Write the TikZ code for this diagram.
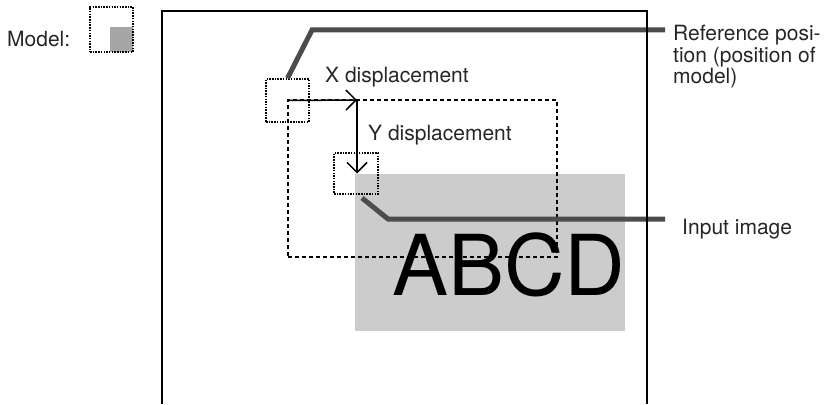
\documentclass[tikz,border=0pt]{standalone}
\usepackage{fontspec}
\setmainfont{TeX Gyre Heros}
\usepackage{xcolor}
\usepackage{tikz}
\usetikzlibrary{arrows.meta, positioning, calc}
\tikzset{
  label/.style={
    inner sep=0pt, text=black!85, font=\fontsize{21}{21.5}\selectfont
  },
  dotsquare/.style={
    rectangle, draw=black, line width=1.5pt, dash pattern=on 1.5pt off 1.2pt,
    inner sep=0pt
  },
  searchbox/.style={
    rectangle, draw=black, line width=1.2pt, dash pattern=on 4pt off 3pt,
    inner sep=0pt
  },
  imagearea/.style={
    rectangle, fill=black!20, inner sep=0pt
  },
  leader/.style={line width=5pt, draw=black!70},
  disparrow/.style={-{Straight Barb[length=10pt,width=20pt,line width=1.5pt]},
    line width=1.5pt, draw=black}
}

\begin{document}
\begin{tikzpicture}[x=1pt, y=-1pt]
\useasboundingbox (0,0) rectangle (832,404);

% model
\node[label, anchor=base west] (modeltxt) at (7,47) {Model:};
\node[imagearea, fill=black!35, minimum width=23pt, minimum height=25pt,
  anchor=south east] (modelgrey) at (133,52) {};
\node[dotsquare, minimum width=43pt, minimum height=45pt] (modelsq) at (111.5,29.5) {};

% input image
\node[imagearea, minimum width=270pt, minimum height=157pt] (inputimg) at (490,252.5) {};
\node[label, anchor=base west, text=black, font=\fontsize{84}{84}\selectfont]
  (abcd) at (392,295) {ABCD};

% squares
\node[dotsquare, minimum width=43pt, minimum height=43pt] (refsq) at (287.5,100.5) {};
\node[dotsquare, minimum width=44pt, minimum height=41pt] (inputsq) at (356,173.5) {};
\node[searchbox, minimum width=269pt, minimum height=157pt] (shifted) at (422.5,178.5) {};

% displacement
\coordinate (corner) at (357,100);
\draw[disparrow] (refsq.center) -- (corner);
\draw[disparrow] (corner) -- (corner |- inputsq.center);
\node[label, anchor=base west] (xdisp) at (325,82) {X displacement};
\node[label, anchor=base west] (ydisp) at (368,140) {Y displacement};

% leaders
\coordinate (refbend) at (312,30);
\coordinate (refend)  at (665,30);
\draw[leader] (refsq.north) -- (refbend) -- (refend);
\coordinate (inbeg)  at (362,198);
\coordinate (inbend) at (388,219);
\coordinate (inend)  at (665,219);
\draw[leader] (inbeg) -- (inbend) -- (inend);

\node[label, anchor=north west, align=left] (reftxt) at (673,25)
  {Reference posi-\\tion (position of\\model)};
\node[label, anchor=base west] (inputtxt) at (682,234) {Input image};

% frame
\draw[line width=1.6pt, black] (162,404) -- (162,11) -- (647,11) -- (647,404);

\end{tikzpicture}
\end{document}
